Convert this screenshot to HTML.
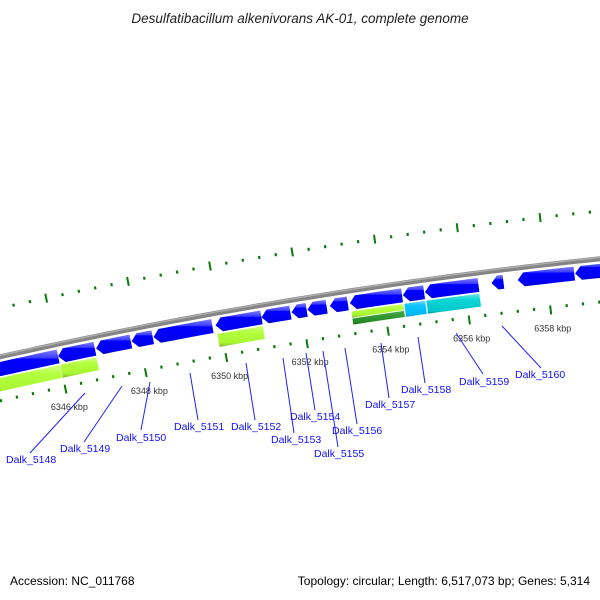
<!DOCTYPE html>
<html><head><meta charset="utf-8"><title>Desulfatibacillum alkenivorans AK-01 genome map</title>
<style>
html,body{margin:0;padding:0;background:#fff;}
svg{display:block;font-family:"Liberation Sans","DejaVu Sans",sans-serif;}
</style></head>
<body>
<svg id="map" width="600" height="600" viewBox="0 0 600 600" xmlns="http://www.w3.org/2000/svg">
<defs>
<linearGradient id="gBlue" x1="0" y1="0" x2="0" y2="1">
<stop offset="0" stop-color="#8080ff"/><stop offset="0.28" stop-color="#3a3aff"/><stop offset="0.32" stop-color="#0000ff"/><stop offset="0.85" stop-color="#0000f0"/><stop offset="1" stop-color="#0000b0"/></linearGradient>
<linearGradient id="gYG" x1="0" y1="0" x2="0" y2="1">
<stop offset="0" stop-color="#d4ff8a"/><stop offset="0.3" stop-color="#b4ff40"/><stop offset="0.8" stop-color="#a8f530"/><stop offset="1" stop-color="#78b020"/></linearGradient>
<linearGradient id="gFG" x1="0" y1="0" x2="0" y2="1">
<stop offset="0" stop-color="#48a848"/><stop offset="0.8" stop-color="#228b22"/><stop offset="1" stop-color="#186818"/></linearGradient>
<linearGradient id="gSky" x1="0" y1="0" x2="0" y2="1">
<stop offset="0" stop-color="#70d8ff"/><stop offset="0.3" stop-color="#10c4ff"/><stop offset="0.85" stop-color="#00b8f4"/><stop offset="1" stop-color="#0088b0"/></linearGradient>
<linearGradient id="gTurq" x1="0" y1="0" x2="0" y2="1">
<stop offset="0" stop-color="#70e8e8"/><stop offset="0.3" stop-color="#10d4d6"/><stop offset="0.85" stop-color="#00c8cc"/><stop offset="1" stop-color="#00909a"/></linearGradient>
</defs>
<text x="300" y="23" text-anchor="middle" font-size="13.5" font-style="italic" fill="#222">Desulfatibacillum alkenivorans AK-01, complete genome</text>
<g id="ticks"></g>
<g id="backbone"></g>
<g id="genes"></g>
<g id="cogs"></g>
<g id="labels"></g>
<text x="10" y="585" font-size="12" fill="#000">Accession: NC_011768</text>
<text x="590" y="585" font-size="12" fill="#000" text-anchor="end">Topology: circular; Length: 6,517,073 bp; Genes: 5,314</text>
</svg>
<script>
// Data (kbp)
const geneStarts = [6344.0, 6345.99, 6346.93, 6347.81, 6348.35, 6349.88, 6351.01, 6351.75, 6352.14, 6352.69, 6353.18, 6354.48, 6355.02, 6356.65, 6357.29, 6358.69];
const geneEnds   = [6345.99, 6346.90, 6347.79, 6348.33, 6349.80, 6351.01, 6351.72, 6352.12, 6352.61, 6353.13, 6354.46, 6355.00, 6356.33, 6356.94, 6358.67, 6359.9];
const cogStarts = [6344.0, 6345.99, 6349.88, 6353.18, 6353.18, 6354.48, 6355.02];
const cogEnds   = [6345.99, 6346.90, 6351.01, 6354.46, 6354.46, 6355.00, 6356.33];
const cogFills  = ["gYG", "gYG", "gYG", "gYG", "gFG", "gSky", "gTurq"];
const cogHalf   = ["full", "full", "full", "top", "bottom", "full", "full"];
const tickLabels = ["6346 kbp", "6348 kbp", "6350 kbp", "6352 kbp", "6354 kbp", "6356 kbp", "6358 kbp"];
const tickLabelPos = [6346, 6348, 6350, 6352, 6354, 6356, 6358];
const geneLabels = ["Dalk_5148","Dalk_5149","Dalk_5150","Dalk_5151","Dalk_5152","Dalk_5153","Dalk_5154","Dalk_5155","Dalk_5156","Dalk_5157","Dalk_5158","Dalk_5159","Dalk_5160"];

const NS = "http://www.w3.org/2000/svg";
const CX = 1137, CY = 5431;
function ang(k){ return -0.2094 + (k - 6346) * 0.00795; }
function pt(r, k){ const a = ang(k); return [CX + r*Math.sin(a), CY - r*Math.cos(a)]; }
function arcPts(r, k0, k1){ const n = Math.max(2, Math.ceil(Math.abs(k1-k0)*4)); const out=[]; for(let i=0;i<=n;i++){ out.push(pt(r, k0+(k1-k0)*i/n)); } return out; }
function ptsStr(p){ return p.map(q=>q[0].toFixed(2)+","+q[1].toFixed(2)).join(" "); }
function mk(tag, attrs, parent){ const e=document.createElementNS(NS, tag); for(const k in attrs) e.setAttribute(k, attrs[k]); parent.appendChild(e); return e; }

// ticks
const tg = document.getElementById("ticks");
for (let k = 6344.0; k <= 6360.81; k += 0.4) {
  const kk = Math.round(k*10)/10;
  const major = Math.abs(kk/2 - Math.round(kk/2)) < 1e-6;
  const rings = major ? [[5150,5159],[5243,5252]] : [[5155.5,5158.5],[5246,5249]];
  rings.forEach((rr, i) => {
    const a = pt(rr[0], kk), b = pt(rr[1], kk);
    const l = mk("line", {x1:a[0], y1:a[1], x2:b[0], y2:b[1], stroke:"#0a7a0a", "stroke-width": major?2:2.2}, tg);
    
    
  });
}
tickLabels.forEach((t, i) => {
  const p = pt(5136, tickLabelPos[i]);
  const e = mk("text", {x:p[0], y:p[1]+3, "text-anchor":"middle", "font-size":"9", fill:"#333"}, tg);
  e.textContent = t;
  
  
});

// backbone
const bb = document.getElementById("backbone");
const bp = arcPts(5200, 6343, 6361.5);
const d = "M" + bp.map(q=>q[0].toFixed(2)+" "+q[1].toFixed(2)).join(" L");
const b1 = mk("path", {d:d, stroke:"#858585", "stroke-width":5, fill:"none"}, bb);


const bp2 = arcPts(5201.3, 6343, 6361.5);
const b2 = mk("path", {d:"M" + bp2.map(q=>q[0].toFixed(2)+" "+q[1].toFixed(2)).join(" L"), stroke:"#b0b0b0", "stroke-width":1.3, fill:"none"}, bb);



// genes (reverse strand arrows)
const gg = document.getElementById("genes");
const R0 = 5181, R1 = 5195, RM = 5188, H = 0.15;
geneStarts.forEach((s, i) => {
  const e = geneEnds[i];
  const h = Math.min(H, (e - s));
  const p = [pt(RM, s)].concat(arcPts(R1, s+h, e)).concat(arcPts(R0, e, s+h));
  const g = mk("polygon", {points: ptsStr(p), fill:"url(#gBlue)"}, gg);
  
  
});

// COG feature bands
const cg = document.getElementById("cogs");
cogStarts.forEach((s, i) => {
  const e = cogEnds[i];
  let r0 = 5166, r1 = 5179.5;
  if (cogHalf[i] === "top") r0 = 5173;
  if (cogHalf[i] === "bottom") r1 = 5172.5;
  const p = arcPts(r1, s, e).concat(arcPts(r0, e, s));
  const g = mk("polygon", {points: ptsStr(p), fill:"url(#"+cogFills[i]+")", stroke:"#ffffff", "stroke-width":0.4}, cg);
  
  
});

// gene labels (layout positions)
const lines = [[85,393,30,453],[122,386,84,442],[150,382,141,430],[190,373,198,420],[246,363,255,420],[283,358,294,433],[306,353,315,410],[323,351,338,447],[345,348,357,424],[381,343,389,398],[418,337,425,383],[456,333,483,374],[502,326,541,368]];
const txt = [[6,463],[60,452],[116,441],[174,430],[231,430],[271,443],[290,420],[314,457],[332,434],[365,408],[401,393],[459,385],[515,378]];
const lg = document.getElementById("labels");
geneLabels.forEach((n, i) => {
  const L = lines[i];
  const l = mk("line", {x1:L[0], y1:L[1], x2:L[2], y2:L[3], stroke:"#2020ff", "stroke-width":1}, lg);
  
  
  const t = mk("text", {x:txt[i][0], y:txt[i][1], "font-size":"10.5", fill:"#1010ff"}, lg);
  t.textContent = n;
  
  
});
</script>
</body></html>
